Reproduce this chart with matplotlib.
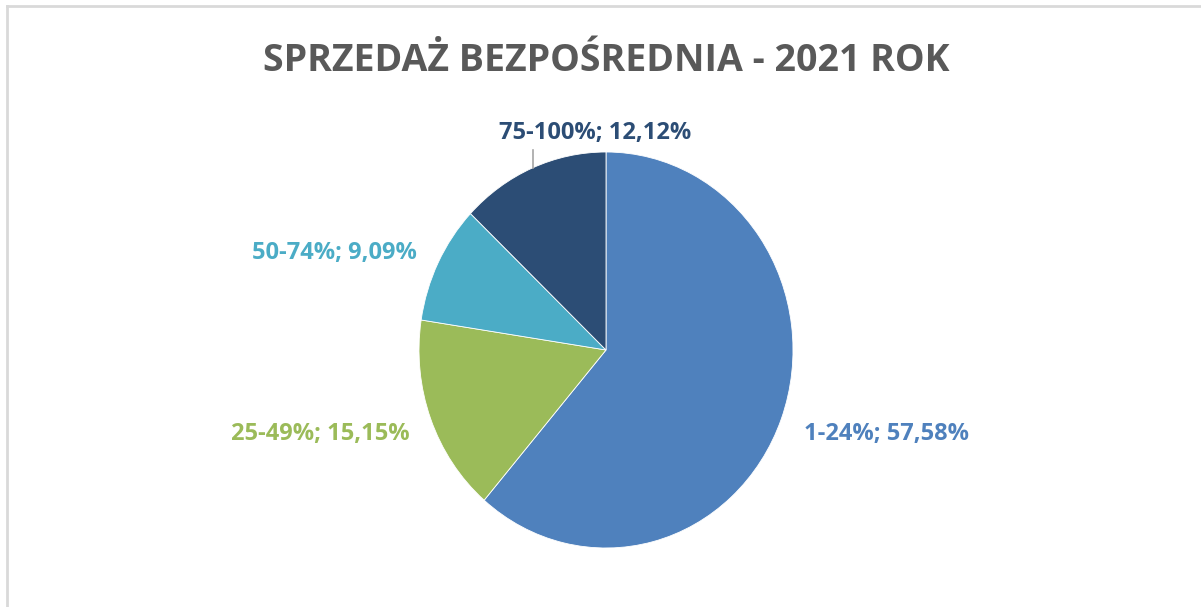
import matplotlib
matplotlib.use("Agg")
import matplotlib.pyplot as plt
from matplotlib.lines import Line2D

categories = ["1-24%", "25-49%", "50-74%", "75-100%"]
values = [57.58, 15.15, 9.09, 12.12]
value_labels = ["57,58%", "15,15%", "9,09%", "12,12%"]
colors = ["#4F81BD", "#9BBB59", "#4BACC6", "#2C4D75"]
title = "SPRZEDAŻ BEZPOŚREDNIA - 2021 ROK"

W, H = 1201, 607
fig = plt.figure(figsize=(W / 100, H / 100), dpi=100)
fig.patch.set_facecolor("white")

# frame
fig.add_artist(Line2D([7 / W, 7 / W], [0, 1 - 6 / H], transform=fig.transFigure,
                      color="#D9D9D9", lw=2))
fig.add_artist(Line2D([7 / W, 1], [1 - 6 / H, 1 - 6 / H], transform=fig.transFigure,
                      color="#D9D9D9", lw=2))

cx, cy, rx, ry = 606, 350, 187, 198
ax = fig.add_axes([(cx - rx) / W, 1 - (cy + ry) / H, 2 * rx / W, 2 * ry / H])
ax.pie(values, colors=colors, startangle=90, counterclock=False,
       wedgeprops=dict(edgecolor="white", linewidth=0.6))
ax.set_aspect("auto")
ax.set_xlim(-1, 1)
ax.set_ylim(-1, 1)
ax.axis("off")

fam = ["Open Sans", "DejaVu Sans"]
fig.text(606 / W, 1 - 61 / H, title, ha="center", va="center", fontsize=27,
         fontweight="bold", color="#595959", family=fam)

label_pos = [(886, 434), (320, 434), (334, 253), (595, 133)]
for cat, vl, col, (px, py) in zip(categories, value_labels, colors, label_pos):
    fig.text(px / W, 1 - py / H, f"{cat}; {vl}", ha="center", va="center",
             fontsize=17, fontweight="bold", color=col, family=fam)

# leader line for the top label
fig.add_artist(Line2D([533 / W, 533 / W], [1 - 150 / H, 1 - 168 / H],
                      transform=fig.transFigure, color="#A6A6A6", lw=1.2))

fig.savefig("out.png", dpi=100)
